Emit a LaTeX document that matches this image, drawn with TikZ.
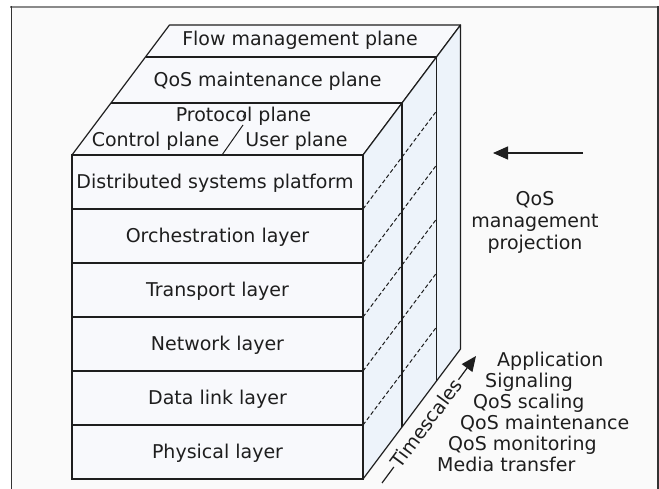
\documentclass[tikz,border=0pt]{standalone}
\usepackage{fontspec}
\setmainfont{DejaVu Sans}
\usetikzlibrary{arrows.meta,calc}

\definecolor{bgc}{HTML}{FAFAFA}
\definecolor{frontc}{HTML}{F8F9FC}
\definecolor{sidec}{HTML}{EDF3FA}
\definecolor{framegray}{HTML}{8A8A8A}
\definecolor{framedark}{HTML}{333333}
\definecolor{inkc}{HTML}{1E1E1E}

\tikzset{
  txt/.style={font=\fontsize{19}{22}\selectfont, text=inkc, inner sep=0pt,
              text height=13.8pt, text depth=0pt},
  layerbox/.style={txt, draw=inkc, line width=1.2pt, fill=frontc,
              minimum width=291pt, minimum height=54pt},
  edge/.style={draw=inkc, line width=1.2pt, line join=round},
  hidden/.style={draw=inkc, line width=1pt, dash pattern=on 4pt off 2.5pt},
  bigarrow/.style={draw=inkc, line width=1.3pt,
              -{Triangle[length=15pt,width=13pt]}},
}

\begin{document}
\begin{tikzpicture}[x=1pt,y=-1pt]
\useasboundingbox (0,0) rectangle (659,489);

% framed panel
\fill[bgc] (11,7) rectangle (658,489);
\draw[framegray, line width=2pt] (10,7) -- (659,7);
\draw[framedark, line width=1.6pt] (11.5,6) -- (11.5,489);
\draw[framedark, line width=1.5pt] (658,6) -- (658,489);

% cube corners
\coordinate (FTL) at (72,155);
\coordinate (FTR) at (363,155);
\coordinate (FBR) at (363,479);
\coordinate (BTL) at (169.5,25);
\coordinate (BTR) at (460.5,25);
\coordinate (BBR) at (460.5,349);

% top and side faces
\path[edge, fill=frontc] (FTL) -- (FTR) -- (BTR) -- (BTL) -- cycle;
\path[edge, fill=sidec] (FTR) -- (BTR) -- (BBR) -- (FBR) -- cycle;

% plane boundaries on top, continued down the side face
\coordinate (p1l) at (145.5,57);
\coordinate (p1r) at (436.5,57);
\coordinate (p1b) at (436.5,381);
\coordinate (p2l) at (111,103);
\coordinate (p2r) at (402,103);
\coordinate (p2b) at (402,427);
\draw[edge] (p1l) -- (p1r) -- (p1b);
\draw[edge] (p2l) -- (p2r) -- (p2b);

% control / user divider
\coordinate (cu0) at (222,155);
\coordinate (cu1) at (243,125);
\coordinate (cu2) at (243,117.5);
\coordinate (cu3) at (245.5,112);
\draw[inkc, line width=1pt] (cu0) -- (cu1);
\draw[inkc, line width=1pt] (cu2) -- (cu3);

% layers on the front face
\node[layerbox] (dsp)  at (217.5,182) {};
\node[layerbox] (orch) at (217.5,236) {Orchestration layer};
\node[layerbox] (tran) at (217.5,290) {Transport layer};
\node[layerbox] (netw) at (217.5,344) {Network layer};
\node[layerbox] (dlnk) at (217.5,398) {Data link layer};
\node[layerbox] (phys) at (217.5,452) {Physical layer};
\node[txt] (dsptext) at (215,182) {Distributed systems platform};

% hidden layer boundaries on the side face
\foreach \yy in {209,263,317,371,425}
  \draw[hidden] (363,\yy) -- (436.5,\yy-98);

% plane labels
\node[txt] (flow)  at (300,39)   {Flow management plane};
\node[txt] (qosm)  at (267.5,80) {QoS maintenance plane};
\node[txt] (prot)  at (243.5,115) {Protocol plane};
\node[txt] (ctrl)  at (155.5,139.5) {Control plane};
\node[txt] (user)  at (296.5,139.5) {User plane};

% QoS management projection
\coordinate (pj0) at (583,153);
\coordinate (pj1) at (493,153);
\draw[bigarrow] (pj0) -- (pj1);
\node[font=\fontsize{19}{22}\selectfont, text=inkc, align=center, inner sep=0pt]
  (proj) at (535,222) {QoS\\management\\projection};

% timescales axis
\coordinate (ts0) at (382,483);
\coordinate (ts1) at (476,356);
\draw[bigarrow, line width=1.2pt] (ts0) -- (ts1);
\node[txt, fill=bgc, inner sep=1.5pt, rotate=53.5] (tsl)
  at ($(ts0)!0.47!(ts1)$) {Timescales};

% timescale list
\node[txt, anchor=west] (app)  at (497,360) {Application};
\node[txt, anchor=west] (sig)  at (485,381) {Signaling};
\node[txt, anchor=west] (scal) at (473,402) {QoS scaling};
\node[txt, anchor=west] (mnt)  at (460,423) {QoS maintenance};
\node[txt, anchor=west] (mon)  at (448,444) {QoS monitoring};
\node[txt, anchor=west] (med)  at (437,465) {Media transfer};
\end{tikzpicture}
\end{document}
